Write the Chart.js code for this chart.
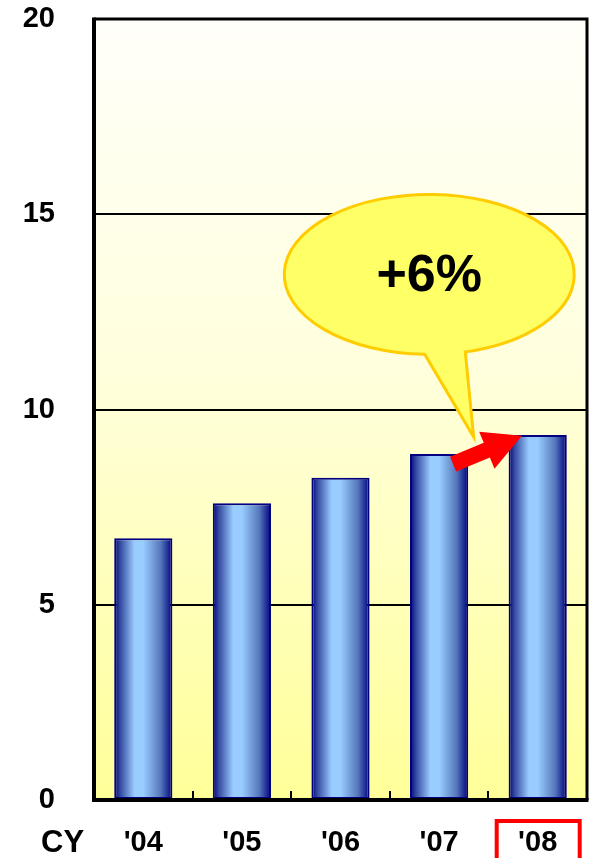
<!DOCTYPE html>
<html>
<head>
<meta charset="utf-8">
<script src="https://cdn.jsdelivr.net/npm/chart.js@4/dist/chart.umd.min.js"></script>
<style>
  html, body { margin: 0; padding: 0; background: #fff; }
  #wrap { width: 596px; height: 858px; }
</style>
</head>
<body>
<div id="wrap"><canvas id="myChart" width="596" height="858"></canvas></div>
<script>
var years = ["'04", "'05", "'06", "'07", "'08"];
var values = [6.7, 7.6, 8.25, 8.86, 9.35];
var yTicks = [0, 5, 10, 15, 20];
var growthLabel = "+6%";
var axisTitle = "CY";

var barPart = 0.59;
var fontFamily = '"Liberation Sans", Arial, sans-serif';

function barFill(c) {
    var chart = c.chart;
    if (!chart.chartArea || c.dataIndex === undefined) {
        return '#99ccff';
    }
    var xs = chart.scales.x;
    var cx = xs.getPixelForValue(c.dataIndex);
    var half = xs.width / years.length * barPart / 2;
    var g = chart.ctx.createLinearGradient(cx - half, 0, cx + half, 0);
    g.addColorStop(0, '#000080');
    g.addColorStop(0.1, '#33489e');
    g.addColorStop(0.35, '#99ccff');
    g.addColorStop(0.5, '#99ccff');
    g.addColorStop(0.8, '#5577bb');
    g.addColorStop(1, '#000080');
    return g;
}

// yellow backdrop of the plot area
var backdrop = {
    id: 'backdrop',
    beforeDraw: function (chart) {
        var a = chart.chartArea;
        var ctx = chart.ctx;
        var g = ctx.createLinearGradient(0, a.top, 0, a.bottom);
        g.addColorStop(0, '#fffffa');
        g.addColorStop(0.45, '#ffffdd');
        g.addColorStop(1, '#ffff99');
        ctx.save();
        ctx.fillStyle = g;
        ctx.fillRect(a.left, a.top, a.right - a.left, a.bottom - a.top);
        ctx.restore();
    }
};

// frame, tick marks, callout, arrow, red box
var extras = {
    id: 'extras',
    afterDatasetsDraw: function (chart) {
        var a = chart.chartArea;
        var ctx = chart.ctx;
        var xs = chart.scales.x;
        ctx.save();
        ctx.strokeStyle = '#000';
        ctx.lineWidth = 2;
        for (var i = 0; i < years.length - 1; i++) {
            var tx = Math.round(xs.getPixelForValue(i + 0.5));
            ctx.beginPath();
            ctx.moveTo(tx, a.bottom);
            ctx.lineTo(tx, a.bottom - 9);
            ctx.stroke();
        }
        ctx.lineWidth = 3;
        ctx.beginPath();
        ctx.moveTo(a.left, a.top);
        ctx.lineTo(a.right, a.top);
        ctx.lineTo(a.right, a.bottom);
        ctx.stroke();
        ctx.lineWidth = 4;
        ctx.beginPath();
        ctx.moveTo(a.left, a.top - 1.5);
        ctx.lineTo(a.left, a.bottom);
        ctx.lineTo(a.right + 1.5, a.bottom);
        ctx.stroke();
        ctx.restore();
    },
    afterDraw: function (chart) {
        var ctx = chart.ctx;
        var xs = chart.scales.x;
        var ys = chart.scales.y;
        ctx.save();

        // arrow from '07 to '08
        var x0 = xs.getPixelForValue(3) + 14, y0 = ys.getPixelForValue(8.6);
        var x1 = xs.getPixelForValue(3.84), y1 = ys.getPixelForValue(9.33);
        var ang = Math.atan2(y1 - y0, x1 - x0);
        var len = Math.hypot(x1 - x0, y1 - y0);
        ctx.translate(x0, y0);
        ctx.rotate(ang);
        ctx.fillStyle = '#ff0000';
        ctx.beginPath();
        ctx.moveTo(0, -8);
        ctx.lineTo(len - 38, -8);
        ctx.lineTo(len - 38, -20);
        ctx.lineTo(len, 0);
        ctx.lineTo(len - 38, 20);
        ctx.lineTo(len - 38, 8);
        ctx.lineTo(0, 8);
        ctx.closePath();
        ctx.fill();
        ctx.setTransform(1, 0, 0, 1, 0, 0);

        // speech bubble
        var cx = xs.getPixelForValue(2.9), cy = ys.getPixelForValue(13.46);
        var tipX = xs.getPixelForValue(3.35), tipY = ys.getPixelForValue(9.3);
        var aR = Math.PI * 0.42, aL = Math.PI * 0.51;
        ctx.fillStyle = '#ffff66';
        ctx.strokeStyle = '#ffcc00';
        ctx.lineWidth = 3;
        ctx.beginPath();
        ctx.ellipse(cx, cy, 145, 80, 0, aL, aR + Math.PI * 2, false);
        ctx.lineTo(tipX, tipY);
        ctx.closePath();
        ctx.fill();
        ctx.stroke();

        ctx.fillStyle = '#000';
        ctx.font = 'bold 52px ' + fontFamily;
        ctx.textAlign = 'center';
        ctx.textBaseline = 'middle';
        ctx.fillText(growthLabel, cx, cy + 2);

        // axis title and highlight box
        ctx.font = 'bold 31px ' + fontFamily;
        ctx.textAlign = 'left';
        ctx.fillText(axisTitle, 41, 843);
        var bx = xs.getPixelForValue(years.length - 1);
        ctx.strokeStyle = '#ff0000';
        ctx.lineWidth = 4;
        ctx.strokeRect(bx - 41, 821, 83, 40);
        ctx.restore();
    }
};

new Chart(document.getElementById('myChart'), {
    type: 'bar',
    data: {
        labels: years,
        datasets: [{
            data: values,
            backgroundColor: barFill,
            borderColor: '#000080',
            borderWidth: 2,
            borderSkipped: false,
            categoryPercentage: barPart,
            barPercentage: 1
        }]
    },
    options: {
        responsive: false,
        animation: false,
        layout: { padding: { top: 19, right: 9, left: 0, bottom: 0 } },
        plugins: { legend: { display: false }, tooltip: { enabled: false } },
        scales: {
            x: {
                grid: { display: false },
                border: { display: false },
                ticks: {
                    color: '#000',
                    padding: 18,
                    font: { family: fontFamily, size: 29, weight: 'bold' }
                },
                afterFit: function (s) {
                    s.height = 58;
                    s.paddingLeft = 0;
                    s.paddingRight = 0;
                }
            },
            y: {
                min: 0,
                max: 20,
                afterBuildTicks: function (s) { s.ticks = yTicks.map(function (v) { return { value: v }; }); },
                grid: { color: '#000', lineWidth: 2, drawTicks: false },
                border: { display: false },
                ticks: {
                    color: '#000',
                    padding: 39,
                    font: { family: fontFamily, size: 29, weight: 'bold' }
                },
                afterFit: function (s) {
                    s.width = 94;
                    s.paddingTop = 0;
                    s.paddingBottom = 0;
                }
            }
        }
    },
    plugins: [backdrop, extras]
});
</script>
</body>
</html>
